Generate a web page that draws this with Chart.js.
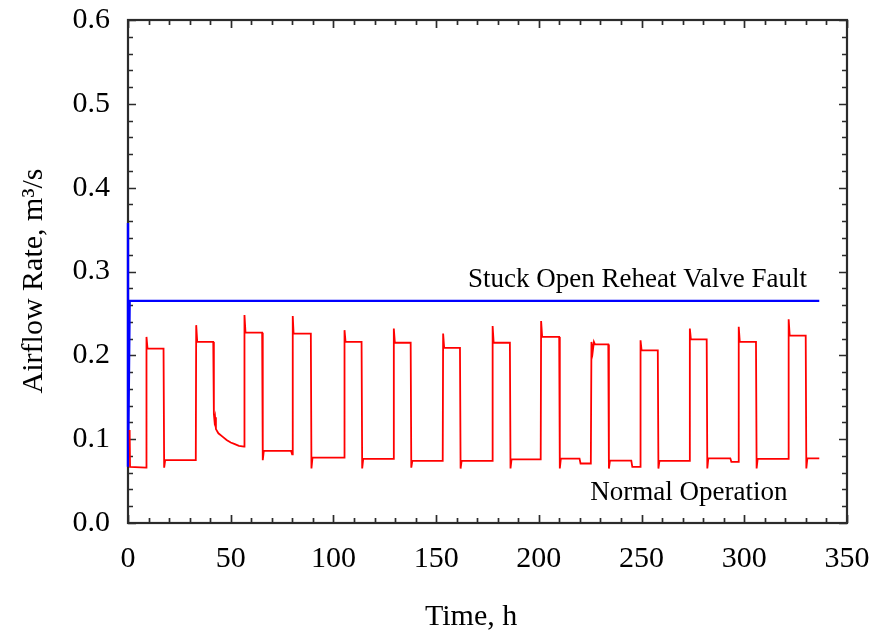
<!DOCTYPE html>
<html>
<head>
<meta charset="utf-8">
<script src="https://cdn.jsdelivr.net/npm/chart.js@4/dist/chart.umd.min.js"></script>
<style>
  html, body { margin: 0; padding: 0; background: #fff; }
  #wrap { width: 877px; height: 634px; }
</style>
</head>
<body>
<div id="wrap"><canvas id="c" width="877" height="634"></canvas></div>
<script>
// Supply airflow under normal operation (h, m3/s)
const normalTime = [
  0.8, 1.0, 8.8,
  9.0, 9.5, 17.3,
  17.6, 18.1, 33.0,
  33.2, 33.7, 41.5,
  41.8, 42.1, 42.4, 42.8, 44, 46, 48, 50, 52, 54, 56.5,
  56.7, 57.2, 65.3,
  65.6, 66.1, 79.4, 79.9,
  80.2, 80.6, 89.0,
  89.3, 89.8, 105.2,
  105.4, 105.9, 113.7,
  114.0, 114.5, 129.2,
  129.4, 129.9, 137.6,
  137.9, 138.4, 153.2,
  153.4, 153.9, 161.6,
  161.9, 162.4, 177.3,
  177.5, 178.0, 185.9,
  186.2, 186.7, 200.9,
  201.1, 201.6, 209.9,
  210.2, 210.7, 219.8, 220.3, 225.3,
  225.6, 226.2, 226.8, 227.3, 233.8,
  234.1, 234.6, 245.0, 245.5, 249.3,
  249.5, 250.0, 257.9,
  258.2, 258.7, 273.3,
  273.5, 274.0, 281.7,
  282.0, 282.5, 293.2, 293.7, 297.1,
  297.3, 297.8, 305.7,
  306.0, 306.5, 321.4,
  321.6, 322.1, 329.9,
  330.2, 330.7, 336.5
];
const normalFlow = [
  0.111, 0.067, 0.066,
  0.222, 0.208, 0.208,
  0.066, 0.075, 0.075,
  0.236, 0.216, 0.216,
  0.130, 0.122, 0.126, 0.112, 0.107, 0.103, 0.099, 0.096, 0.094, 0.092, 0.091,
  0.248, 0.227, 0.227,
  0.075, 0.086, 0.086, 0.082,
  0.247, 0.226, 0.226,
  0.065, 0.078, 0.078,
  0.230, 0.216, 0.216,
  0.065, 0.0765, 0.0765,
  0.232, 0.215, 0.215,
  0.066, 0.074, 0.074,
  0.226, 0.209, 0.209,
  0.065, 0.074, 0.074,
  0.235, 0.215, 0.215,
  0.065, 0.076, 0.076,
  0.241, 0.222, 0.222,
  0.065, 0.0768, 0.0768, 0.071, 0.071,
  0.216, 0.204, 0.216, 0.213, 0.213,
  0.065, 0.0743, 0.0743, 0.067, 0.067,
  0.218, 0.206, 0.206,
  0.065, 0.074, 0.074,
  0.232, 0.219, 0.219,
  0.065, 0.0772, 0.0772, 0.073, 0.073,
  0.234, 0.216, 0.216,
  0.065, 0.0764, 0.0764,
  0.243, 0.2235, 0.2235,
  0.065, 0.077, 0.077
];

// Supply airflow with the reheat valve stuck open (h, m3/s)
const faultTime = [0, 0, 0.8, 336.5];
const faultFlow = [0.358, 0.067, 0.265, 0.265];

// Axis ranges and tick labels
const xTickValues = [0, 50, 100, 150, 200, 250, 300, 350];
const yTickValues = [0.0, 0.1, 0.2, 0.3, 0.4, 0.5, 0.6];
const xTitle = 'Time, h';
const yTitle = 'Airflow Rate, m\u00B3/s';
const faultLabel = 'Stuck Open Reheat Valve Fault';
const normalLabel = 'Normal Operation';

const SERIF = '"Liberation Serif", "Times New Roman", Times, serif';

function toPoints(xs, ys) {
  return xs.map((x, i) => ({ x: x, y: ys[i] }));
}

// Keep the plot box fixed: no extra room reserved for overhanging tick labels
function noOverhang(s) {
  s.paddingTop = 0; s.paddingBottom = 0; s.paddingLeft = 0; s.paddingRight = 0;
}

// Boxed frame with inward major/minor ticks on all four sides
const framePlugin = {
  id: 'frame',
  beforeDatasetsDraw(chart) {
    const { ctx, chartArea: a, scales } = chart;
    const xs = scales.x, ys = scales.y;
    ctx.save();
    ctx.strokeStyle = '#2b2b2b';
    ctx.lineWidth = 1.7;
    ctx.beginPath();
    for (let v = 0; v <= 350.001; v += 10) {
      const px = Math.round(xs.getPixelForValue(v)) + 0.5;
      const len = (Math.round(v) % 50 === 0) ? 8 : 5;
      ctx.moveTo(px, a.bottom); ctx.lineTo(px, a.bottom - len);
      ctx.moveTo(px, a.top); ctx.lineTo(px, a.top + len);
    }
    for (let k = 0; k <= 30; k++) {
      const v = k * 0.02;
      const py = Math.round(ys.getPixelForValue(v)) + 0.5;
      const len = (k % 5 === 0) ? 8 : 5;
      ctx.moveTo(a.left, py); ctx.lineTo(a.left + len, py);
      ctx.moveTo(a.right, py); ctx.lineTo(a.right - len, py);
    }
    ctx.stroke();
    ctx.lineWidth = 2.2;
    ctx.strokeRect(a.left, a.top, a.right - a.left, a.bottom - a.top);
    ctx.restore();
  },
  afterDraw(chart) {
    const { ctx, scales } = chart;
    const xs = scales.x, ys = scales.y;
    ctx.save();
    ctx.fillStyle = '#000';
    ctx.textBaseline = 'alphabetic';
    // series annotations
    ctx.font = '27px ' + SERIF;
    ctx.textAlign = 'left';
    ctx.fillText(faultLabel, xs.getPixelForValue(165.5), ys.getPixelForValue(0.2816));
    ctx.fillText(normalLabel, xs.getPixelForValue(225), ys.getPixelForValue(0.0275));
    // axis titles
    ctx.font = '30px ' + SERIF;
    ctx.fillText(xTitle, 425, 625);
    ctx.translate(42, 281);
    ctx.rotate(-Math.PI / 2);
    ctx.textAlign = 'center';
    ctx.fillText(yTitle, 0, 0);
    ctx.restore();
  }
};

new Chart(document.getElementById('c'), {
  type: 'line',
  data: {
    datasets: [
      {
        label: 'Normal Operation',
        data: toPoints(normalTime, normalFlow),
        borderColor: '#ff0000',
        borderWidth: 1.8,
        pointRadius: 0,
        tension: 0,
        clip: false
      },
      {
        label: 'Stuck Open Reheat Valve Fault',
        data: toPoints(faultTime, faultFlow),
        borderColor: '#0000ff',
        borderWidth: 2.4,
        pointRadius: 0,
        tension: 0,
        clip: false
      }
    ]
  },
  options: {
    responsive: false,
    devicePixelRatio: 1,
    animation: false,
    events: [],
    layout: { padding: { left: 0, right: 30, top: 20, bottom: 0 } },
    plugins: { legend: { display: false }, tooltip: { enabled: false } },
    scales: {
      x: {
        type: 'linear',
        min: 0, max: 350,
        afterFit(s) { s.height = 111; noOverhang(s); },
        afterBuildTicks(s) { s.ticks = xTickValues.map(v => ({ value: v })); },
        grid: { display: false, drawTicks: false },
        border: { display: false },
        ticks: {
          color: '#000',
          font: { family: SERIF, size: 30 },
          padding: 18,
          maxRotation: 0,
          autoSkip: false,
          callback: v => String(v)
        }
      },
      y: {
        type: 'linear',
        min: 0, max: 0.6,
        afterFit(s) { s.width = 128; noOverhang(s); },
        afterBuildTicks(s) { s.ticks = yTickValues.map(v => ({ value: v })); },
        grid: { display: false, drawTicks: false },
        border: { display: false },
        ticks: {
          color: '#000',
          font: { family: SERIF, size: 30 },
          padding: 18,
          autoSkip: false,
          callback: v => Number(v).toFixed(1)
        }
      }
    }
  },
  plugins: [framePlugin]
});
</script>
</body>
</html>
